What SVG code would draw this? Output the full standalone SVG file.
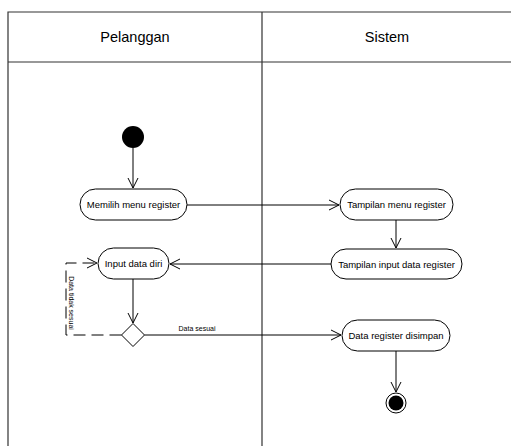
<svg xmlns="http://www.w3.org/2000/svg" width="511" height="446" viewBox="0 0 511 446">
<defs>
<style>
.lane{fill:none;stroke:#333;stroke-width:1.2}
.node{fill:#fff;stroke:#000;stroke-width:1}
.lbl{font-family:"Liberation Sans",Arial,sans-serif;font-size:9.5px;fill:#000;text-anchor:middle}
.hdr{font-family:"Liberation Sans",Arial,sans-serif;font-size:14.5px;fill:#000;text-anchor:middle}
.small{font-family:"Liberation Sans",Arial,sans-serif;font-size:7px;fill:#000;text-anchor:middle}
.edge{fill:none;stroke:#000;stroke-width:1}
.dash{stroke-dasharray:12,6}
</style>
<marker id="arr" markerWidth="12" markerHeight="12" viewBox="0 0 12 12" refX="11" refY="6" orient="auto" markerUnits="userSpaceOnUse">
<path d="M1,1 L11,6 L1,11" fill="none" stroke="#000" stroke-width="1"/>
</marker>
</defs>
<rect width="511" height="446" fill="#fff"/>
<g id="swimlane">
<path class="lane" d="M8,446 V12 H512 M8,62 H512 M262,12 V446"/>
<text class="hdr" x="135" y="42">Pelanggan</text>
<text class="hdr" x="387" y="42">Sistem</text>
</g>
<g id="connectors">
<path class="edge" d="M133,148 V188" marker-end="url(#arr)"/>
<path class="edge" d="M187,205 H339" marker-end="url(#arr)"/>
<path class="edge" d="M396,220 V248" marker-end="url(#arr)"/>
<path class="edge" d="M331,264 H170" marker-end="url(#arr)"/>
<path class="edge" d="M133,279 V323" marker-end="url(#arr)"/>
<path class="edge dash" d="M121.5,335 H66 V263 H97" marker-end="url(#arr)"/>
<path class="edge" d="M144.5,335 H341" marker-end="url(#arr)"/>
<path class="edge" d="M396,351 V392" marker-end="url(#arr)"/>
<text class="small" x="197" y="331">Data sesuai</text>
<text class="small" transform="translate(71,303) rotate(90)" y="2.5">Data tidak sesuai</text>
</g>
<g id="start"><circle cx="133" cy="137" r="11" fill="#000"/></g>
<g id="memilih"><rect class="node" x="80" y="189" width="107" height="31" rx="15.5"/><text class="lbl" x="133.5" y="208">Memilih menu register</text></g>
<g id="tampilan-menu"><rect class="node" x="340" y="189" width="113" height="31" rx="15.5"/><text class="lbl" x="396.5" y="208">Tampilan menu register</text></g>
<g id="tampilan-input"><rect class="node" x="331" y="249" width="131" height="30" rx="15"/><text class="lbl" x="396.5" y="267.5">Tampilan input data register</text></g>
<g id="input-data"><rect class="node" x="98" y="248" width="71" height="31" rx="15.5"/><text class="lbl" x="133.5" y="267">Input data diri</text></g>
<g id="decision"><path class="node" d="M133,323.5 L144.5,335 L133,346.5 L121.5,335 Z"/></g>
<g id="disimpan"><rect class="node" x="342" y="320" width="108" height="31" rx="15.5"/><text class="lbl" x="396" y="339">Data register disimpan</text></g>
<g id="end"><circle cx="396" cy="403" r="10" fill="#fff" stroke="#000" stroke-width="1"/><circle cx="396" cy="403" r="7.5" fill="#000"/></g>
</svg>
